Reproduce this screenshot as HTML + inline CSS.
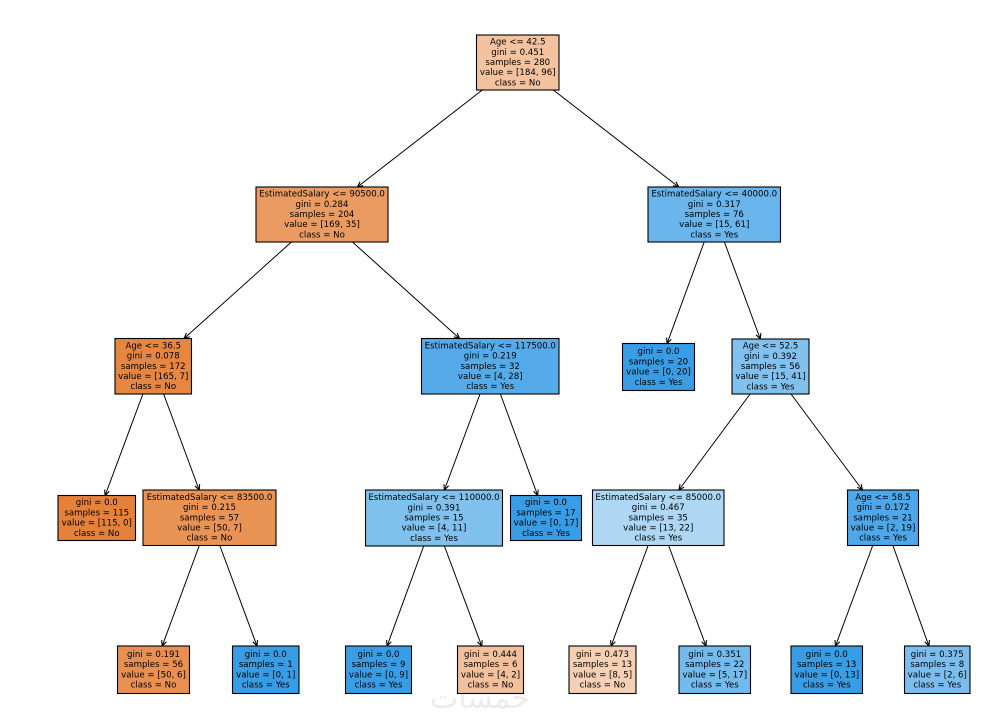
<!DOCTYPE html>
<html>
<head>
<meta charset="utf-8">
<style>
  html, body { margin: 0; padding: 0; background: #ffffff; }
  svg { display: block; }
  text { font-family: "DejaVu Sans", "Liberation Sans", sans-serif; font-size: 8.6px; fill: #000; text-anchor: middle; }
  .wm { font-size: 30px; fill: #ececec; }
  rect { stroke: #000; stroke-width: 1.1; }
  line { stroke: #000; stroke-width: 1; }
</style>
</head>
<body>
<svg width="1000" height="725" viewBox="0 0 1000 725" xmlns="http://www.w3.org/2000/svg">
  <defs>
    <marker id="ah" markerUnits="userSpaceOnUse" markerWidth="6" markerHeight="6" viewBox="0 0 5 5" refX="4.8" refY="2.5" orient="auto">
      <path d="M0.3,0.4 L4.8,2.5 L0.3,4.6" fill="none" stroke="#000" stroke-width="0.9"/>
    </marker>
  </defs>

  <!-- watermark -->
  <text class="wm" x="480" y="708">خمسات</text>

  <!-- edges -->
  <line x1="482.3" y1="90" x2="357.4" y2="187" marker-end="url(#ah)"/>
  <line x1="553.3" y1="90" x2="678.7" y2="187" marker-end="url(#ah)"/>
  <line x1="291.4" y1="242" x2="184.1" y2="338.5" marker-end="url(#ah)"/>
  <line x1="352.5" y1="242" x2="459.5" y2="338.5" marker-end="url(#ah)"/>
  <line x1="704.2" y1="242" x2="667.1" y2="343.5" marker-end="url(#ah)"/>
  <line x1="724.4" y1="242" x2="760.3" y2="339" marker-end="url(#ah)"/>
  <line x1="142.9" y1="394" x2="105.1" y2="495.5" marker-end="url(#ah)"/>
  <line x1="163.6" y1="394" x2="199.2" y2="490" marker-end="url(#ah)"/>
  <line x1="480.0" y1="394" x2="444.4" y2="490" marker-end="url(#ah)"/>
  <line x1="500.4" y1="394" x2="537.7" y2="495.5" marker-end="url(#ah)"/>
  <line x1="750.1" y1="394" x2="678.9" y2="490" marker-end="url(#ah)"/>
  <line x1="791.0" y1="394" x2="862.4" y2="490" marker-end="url(#ah)"/>
  <line x1="199.3" y1="545.5" x2="162.2" y2="646" marker-end="url(#ah)"/>
  <line x1="219.8" y1="545.5" x2="257.0" y2="646" marker-end="url(#ah)"/>
  <line x1="423.7" y1="546" x2="387.1" y2="646" marker-end="url(#ah)"/>
  <line x1="444.4" y1="546" x2="481.7" y2="646" marker-end="url(#ah)"/>
  <line x1="648.1" y1="545.5" x2="611.1" y2="646" marker-end="url(#ah)"/>
  <line x1="668.6" y1="545.5" x2="706.0" y2="646" marker-end="url(#ah)"/>
  <line x1="872.7" y1="545.5" x2="835.5" y2="646" marker-end="url(#ah)"/>
  <line x1="892.9" y1="545.5" x2="928.9" y2="646" marker-end="url(#ah)"/>

  <!-- Root -->
  <rect x="476.5" y="35" width="82.5" height="55" fill="#f3c3a0"/>
  <text x="517.75" y="44.6">Age &lt;= 42.5</text>
  <text x="517.75" y="54.8">gini = 0.451</text>
  <text x="517.75" y="65.0">samples = 280</text>
  <text x="517.75" y="75.2">value = [184, 96]</text>
  <text x="517.75" y="85.4">class = No</text>

  <!-- ES <= 90500 -->
  <rect x="256" y="187" width="132" height="55" fill="#ea9b62"/>
  <text x="322" y="196.6">EstimatedSalary &lt;= 90500.0</text>
  <text x="322" y="206.8">gini = 0.284</text>
  <text x="322" y="217.0">samples = 204</text>
  <text x="322" y="227.2">value = [169, 35]</text>
  <text x="322" y="237.4">class = No</text>

  <!-- ES <= 40000 -->
  <rect x="648" y="187" width="132.5" height="55" fill="#6ab5eb"/>
  <text x="714.25" y="196.6">EstimatedSalary &lt;= 40000.0</text>
  <text x="714.25" y="206.8">gini = 0.317</text>
  <text x="714.25" y="217.0">samples = 76</text>
  <text x="714.25" y="227.2">value = [15, 61]</text>
  <text x="714.25" y="237.4">class = Yes</text>

  <!-- Age <= 36.5 -->
  <rect x="115" y="338.5" width="76.5" height="55.5" fill="#e68641"/>
  <text x="153.25" y="348.4">Age &lt;= 36.5</text>
  <text x="153.25" y="358.6">gini = 0.078</text>
  <text x="153.25" y="368.8">samples = 172</text>
  <text x="153.25" y="379.0">value = [165, 7]</text>
  <text x="153.25" y="389.2">class = No</text>

  <!-- ES <= 117500 -->
  <rect x="421.5" y="338.5" width="137.5" height="55.5" fill="#55abe9"/>
  <text x="490.25" y="348.4">EstimatedSalary &lt;= 117500.0</text>
  <text x="490.25" y="358.6">gini = 0.219</text>
  <text x="490.25" y="368.8">samples = 32</text>
  <text x="490.25" y="379.0">value = [4, 28]</text>
  <text x="490.25" y="389.2">class = Yes</text>

  <!-- leaf [0,20] -->
  <rect x="622.5" y="343.5" width="72" height="47" fill="#399de5"/>
  <text x="658.5" y="354.2">gini = 0.0</text>
  <text x="658.5" y="364.4">samples = 20</text>
  <text x="658.5" y="374.6">value = [0, 20]</text>
  <text x="658.5" y="384.8">class = Yes</text>

  <!-- Age <= 52.5 -->
  <rect x="732" y="339" width="77" height="55" fill="#82c1ee"/>
  <text x="770.5" y="348.6">Age &lt;= 52.5</text>
  <text x="770.5" y="358.8">gini = 0.392</text>
  <text x="770.5" y="369.0">samples = 56</text>
  <text x="770.5" y="379.2">value = [15, 41]</text>
  <text x="770.5" y="389.4">class = Yes</text>

  <!-- leaf [115,0] -->
  <rect x="58" y="495.5" width="77.5" height="45" fill="#e58139"/>
  <text x="96.75" y="505.2">gini = 0.0</text>
  <text x="96.75" y="515.4">samples = 115</text>
  <text x="96.75" y="525.6">value = [115, 0]</text>
  <text x="96.75" y="535.8">class = No</text>

  <!-- ES <= 83500 -->
  <rect x="143" y="490" width="133" height="55.5" fill="#e99355"/>
  <text x="209.5" y="499.9">EstimatedSalary &lt;= 83500.0</text>
  <text x="209.5" y="510.1">gini = 0.215</text>
  <text x="209.5" y="520.3">samples = 57</text>
  <text x="209.5" y="530.5">value = [50, 7]</text>
  <text x="209.5" y="540.7">class = No</text>

  <!-- ES <= 110000 -->
  <rect x="365.5" y="490" width="137" height="56" fill="#81c1ee"/>
  <text x="434" y="500.1">EstimatedSalary &lt;= 110000.0</text>
  <text x="434" y="510.3">gini = 0.391</text>
  <text x="434" y="520.5">samples = 15</text>
  <text x="434" y="530.7">value = [4, 11]</text>
  <text x="434" y="540.9">class = Yes</text>

  <!-- leaf [0,17] -->
  <rect x="510.5" y="495.5" width="71" height="45" fill="#399de5"/>
  <text x="546" y="505.2">gini = 0.0</text>
  <text x="546" y="515.4">samples = 17</text>
  <text x="546" y="525.6">value = [0, 17]</text>
  <text x="546" y="535.8">class = Yes</text>

  <!-- ES <= 85000 -->
  <rect x="592.5" y="490" width="131.5" height="55.5" fill="#aed7f4"/>
  <text x="658.25" y="499.9">EstimatedSalary &lt;= 85000.0</text>
  <text x="658.25" y="510.1">gini = 0.467</text>
  <text x="658.25" y="520.3">samples = 35</text>
  <text x="658.25" y="530.5">value = [13, 22]</text>
  <text x="658.25" y="540.7">class = Yes</text>

  <!-- Age <= 58.5 -->
  <rect x="847.5" y="490" width="71" height="55.5" fill="#4ea7e8"/>
  <text x="883" y="499.9">Age &lt;= 58.5</text>
  <text x="883" y="510.1">gini = 0.172</text>
  <text x="883" y="520.3">samples = 21</text>
  <text x="883" y="530.5">value = [2, 19]</text>
  <text x="883" y="540.7">class = Yes</text>

  <!-- bottom leaves -->
  <rect x="117.5" y="646" width="72" height="47.5" fill="#e89051"/>
  <text x="153.5" y="656.9">gini = 0.191</text>
  <text x="153.5" y="667.1">samples = 56</text>
  <text x="153.5" y="677.3">value = [50, 6]</text>
  <text x="153.5" y="687.5">class = No</text>

  <rect x="232.5" y="646" width="66.5" height="47.5" fill="#399de5"/>
  <text x="265.75" y="656.9">gini = 0.0</text>
  <text x="265.75" y="667.1">samples = 1</text>
  <text x="265.75" y="677.3">value = [0, 1]</text>
  <text x="265.75" y="687.5">class = Yes</text>

  <rect x="345.5" y="646" width="66" height="47.5" fill="#399de5"/>
  <text x="378.5" y="656.9">gini = 0.0</text>
  <text x="378.5" y="667.1">samples = 9</text>
  <text x="378.5" y="677.3">value = [0, 9]</text>
  <text x="378.5" y="687.5">class = Yes</text>

  <rect x="457.5" y="646" width="66" height="47.5" fill="#f2c09c"/>
  <text x="490.5" y="656.9">gini = 0.444</text>
  <text x="490.5" y="667.1">samples = 6</text>
  <text x="490.5" y="677.3">value = [4, 2]</text>
  <text x="490.5" y="687.5">class = No</text>

  <rect x="569" y="646" width="67" height="47.5" fill="#f5d0b5"/>
  <text x="602.5" y="656.9">gini = 0.473</text>
  <text x="602.5" y="667.1">samples = 13</text>
  <text x="602.5" y="677.3">value = [8, 5]</text>
  <text x="602.5" y="687.5">class = No</text>

  <rect x="679" y="646" width="71.5" height="47.5" fill="#73baed"/>
  <text x="714.75" y="656.9">gini = 0.351</text>
  <text x="714.75" y="667.1">samples = 22</text>
  <text x="714.75" y="677.3">value = [5, 17]</text>
  <text x="714.75" y="687.5">class = Yes</text>

  <rect x="791" y="646" width="71.5" height="47.5" fill="#399de5"/>
  <text x="826.75" y="656.9">gini = 0.0</text>
  <text x="826.75" y="667.1">samples = 13</text>
  <text x="826.75" y="677.3">value = [0, 13]</text>
  <text x="826.75" y="687.5">class = Yes</text>

  <rect x="904.5" y="646" width="65.5" height="47.5" fill="#7bbeee"/>
  <text x="937.25" y="656.9">gini = 0.375</text>
  <text x="937.25" y="667.1">samples = 8</text>
  <text x="937.25" y="677.3">value = [2, 6]</text>
  <text x="937.25" y="687.5">class = Yes</text>
</svg>
</body>
</html>
